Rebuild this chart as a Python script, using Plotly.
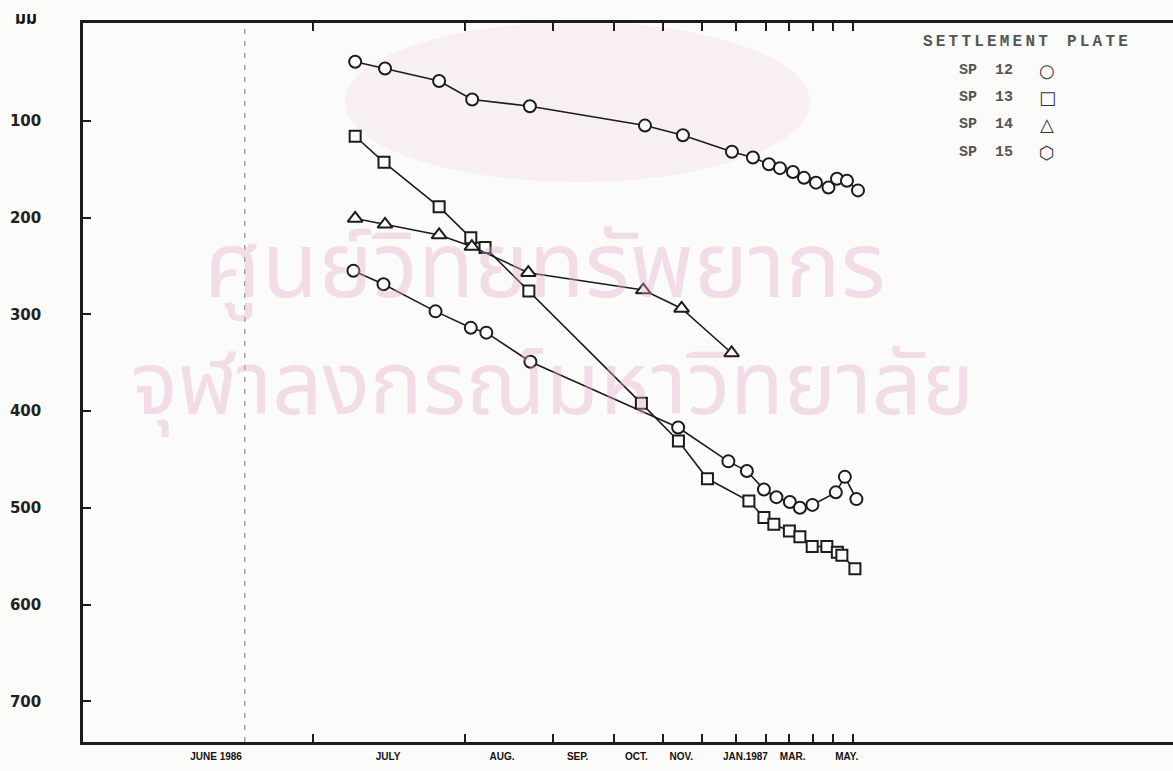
import numpy as np
import plotly.graph_objects as go

# time = elapsed days counted from 31 May 1986 (day 1 = 1 June 1986), drawn on a log axis
sp12_day = [37.6, 43.1, 55.2, 64.2, 83.6, 141.5, 168.3, 210.6, 231.8, 249.4, 262.3, 278.4, 292.8, 309.3, 327.5, 340.5, 356.4, 374.8]
sp12_mm = [39, 46, 59, 78, 85, 105, 115, 132, 138, 145, 149, 153, 159, 164, 169, 160, 162, 172]

sp13_day = [37.6, 42.9, 55.2, 63.8, 68.1, 83.2, 139.2, 164.9, 188.3, 227.6, 243.8, 255.1, 273.9, 287.4, 304.0, 325.1, 341.1, 348.2, 369.6]
sp13_mm = [116, 143, 189, 221, 231, 276, 392, 431, 470, 493, 510, 517, 524, 530, 540, 540, 546, 549, 563]

sp14_day = [37.6, 43.1, 55.2, 64.1, 83.0, 140.4, 167.3, 210.3]
sp14_mm = [201, 207, 218, 230, 257, 275, 294, 340]

sp15_day = [37.3, 42.8, 54.3, 63.8, 68.5, 83.8, 164.7, 207.2, 225.5, 243.8, 258.1, 274.5, 287.4, 304.3, 338.7, 353.0, 372.1]
sp15_mm = [255, 269, 297, 314, 319, 349, 417, 452, 462, 481, 489, 494, 500, 497, 484, 468, 491]

# first day of each month, Jul 1986 .. Jun 1987
month_start = [31, 62, 93, 123, 154, 184, 215, 246, 274, 305, 335, 366]
month_labels = ["JUNE 1986", "JULY", "AUG.", "SEP.", "OCT.", "NOV.", "JAN.1987", "MAR.", "MAY."]
month_label_day = [19.9, 43.7, 73.6, 104, 136, 167, 224, 278, 356]
fill_start_day = 22.7

y_ticks = [100, 200, 300, 400, 500, 600, 700]

legend_title = ["SETTLEMENT", "PLATE"]
legend_names = ["SP  12", "SP  13", "SP  14", "SP  15"]
legend_symbols = ["○", "□", "△", "⬡"]

W, H = 1173, 771
L, R, T, B = 83, 0, 23, 29
BG = "#fbfbf9"
INK = "#1c1c1c"
NB = "\u00a0"
THIN = "\u2009"

x_range = [np.log10(10.83), np.log10(1583)]
y_range = [742, -1]


def px(xp):
    return (xp - L) / (W - L - R)


def py(yp):
    return 1 - (yp - T) / (H - T - B)


def note(text, xp, yp, font, xanchor="center"):
    return dict(text=text, x=px(xp), y=py(yp), xref="paper", yref="paper",
                xanchor=xanchor, yanchor="middle", showarrow=False, font=font)


fig = go.Figure()

series = [
    (sp12_day, sp12_mm, "circle", 12),
    (sp13_day, sp13_mm, "square", 11),
    (sp14_day, sp14_mm, "triangle-up", 13),
    (sp15_day, sp15_mm, "circle", 12),
]
for (xs, ys, sym, sz), name in zip(series, legend_names):
    fig.add_trace(go.Scatter(
        x=xs, y=ys, mode="lines+markers", name=name.replace(" ", ""), showlegend=False,
        line=dict(color=INK, width=1.6),
        marker=dict(symbol=sym, size=sz, color=BG, line=dict(color=INK, width=2)),
    ))

# carrier for the month-name axis
fig.add_trace(go.Scatter(x=month_label_day, y=[None] * len(month_label_day),
                         xaxis="x2", showlegend=False, hoverinfo="skip"))

fig.add_shape(type="line", xref="x", yref="paper", x0=fill_start_day, x1=fill_start_day,
              y0=0, y1=1, line=dict(color="#777", width=1, dash="5px,7px"))

# faint pink crest of the scanned page
fig.add_shape(type="circle", xref="paper", yref="paper", layer="below",
              x0=px(345), x1=px(810), y0=py(182), y1=py(22),
              fillcolor="rgba(238,195,215,0.22)", line=dict(width=0))

thai = "Noto Sans Thai, Noto Sans, sans-serif"
wm = "rgba(225,170,205,0.38)"
ann = [
    note("ศูนย์วิทยทรัพยากร", 545, 268, dict(size=92, color=wm, family=thai)),
    note("จุฬาลงกรณ์มหาวิทยาลัย", 552, 388, dict(size=88, color=wm, family=thai)),
    note("มม", 26, 19, dict(size=17, color="#111", family=thai, weight="bold")),
]

leg_font = dict(family="Liberation Mono, DejaVu Sans Mono, monospace", size=15, color="#555", weight="bold")
title_text = (NB * 2).join(THIN.join(w) for w in legend_title)
ann.append(note(title_text, 1025, 42, dict(leg_font, size=16)))
for name, s, yy in zip(legend_names, legend_symbols, [70, 97, 125, 153]):
    ann.append(note(name.replace(" ", NB), 957, yy, leg_font, xanchor="left"))
    ann.append(note(s, 1047, yy, dict(family="DejaVu Sans", size=18, color="#333")))

fig.update_layout(
    width=W, height=H,
    margin=dict(l=L, r=R, t=T, b=B),
    paper_bgcolor=BG, plot_bgcolor=BG,
    annotations=ann,
    xaxis=dict(type="log", range=x_range, tickvals=month_start, showticklabels=False,
               ticks="inside", ticklen=8, tickwidth=2, tickcolor=INK,
               showline=True, linewidth=2.5, linecolor=INK, mirror="ticks",
               showgrid=False, zeroline=False),
    xaxis2=dict(type="log", range=x_range, overlaying="x", anchor="y", side="bottom",
                tickvals=month_label_day, ticktext=month_labels, ticks="",
                showline=False, showgrid=False, zeroline=False, ticklabelstandoff=7,
                tickfont=dict(family="Liberation Sans, Arial, sans-serif", size=10, color="#111", weight="bold")),
    yaxis=dict(range=y_range, tickvals=y_ticks, ticks="inside", ticklen=8, tickwidth=2, tickcolor=INK,
               showline=True, linewidth=2.5, linecolor=INK, mirror=False,
               showgrid=False, zeroline=False, ticklabelstandoff=36,
               tickfont=dict(family="DejaVu Sans, sans-serif", size=15, color="#222", weight="bold")),
)

fig.write_html("out.html", config={"displayModeBar": False},
               post_script="document.body.style.margin='0';")
